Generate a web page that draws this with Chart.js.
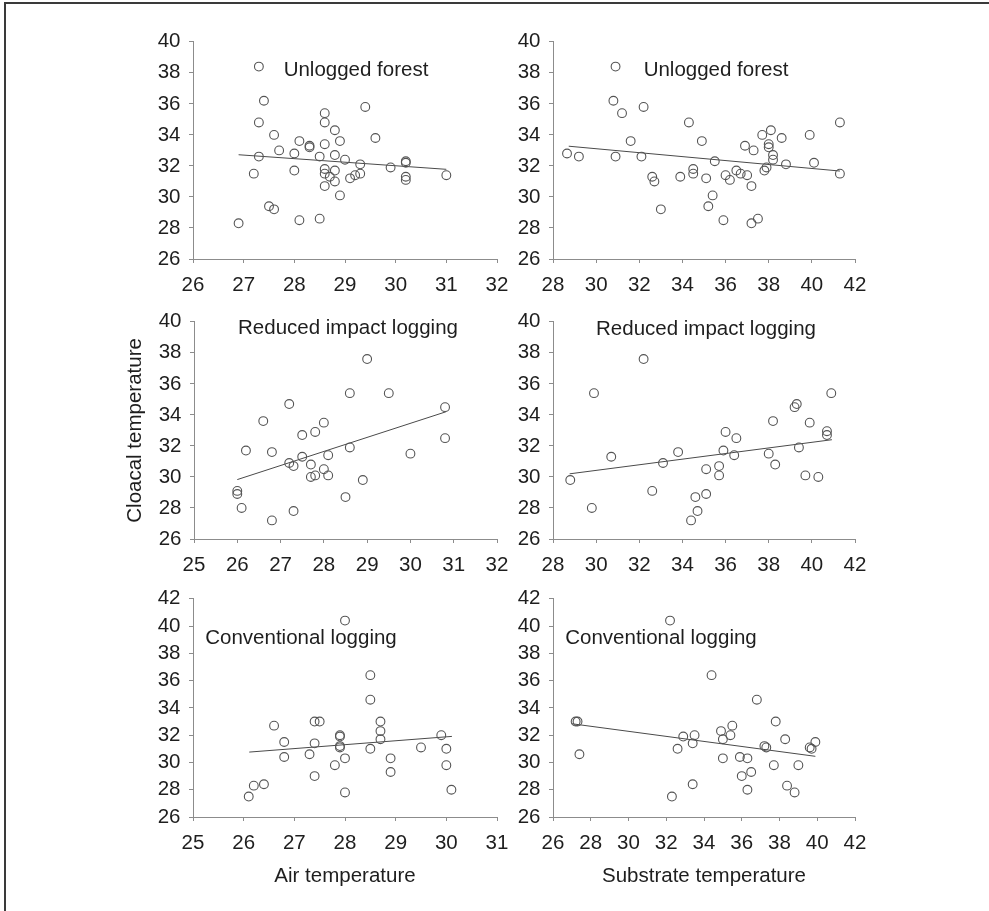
<!DOCTYPE html>
<html>
<head>
<meta charset="utf-8">
<script src="https://cdn.jsdelivr.net/npm/chart.js@4.4.1/dist/chart.umd.min.js"></script>
<style>
  html, body { margin: 0; overflow: hidden; }
  body { background: #fff; width: 989px; height: 911px; position: relative; }
  #frame { position: absolute; left: 4px; top: 2px; width: 985px; height: 909px;
           border-top: 2px solid #3a3a3a; border-left: 2px solid #3a3a3a; box-sizing: border-box; }
  canvas { position: absolute; }
</style>
</head>
<body>
<div id="frame"></div>
<script>
// ---- data ----
// Unlogged forest vs air temperature
var unloggedAirX = [27.3,27.4,27.3,27.6,27.7,28.0,28.1,28.3,28.3,28.5,28.6,28.6,28.6,28.8,28.9,28.8,29.0,29.4,29.6,29.3,29.9,30.2,30.2,30.2,30.2,31.0,27.3,27.2,28.0,28.6,28.6,28.7,28.8,28.8,28.6,29.1,29.2,29.3,28.9,27.5,27.6,26.9,28.1,28.5];
var unloggedAirY = [38.4,36.2,34.8,34.0,33.0,32.8,33.6,33.3,33.2,32.6,35.4,34.8,33.4,34.3,33.6,32.7,32.4,35.8,33.8,32.1,31.9,32.3,32.2,31.3,31.1,31.4,32.6,31.5,31.7,31.8,31.5,31.3,31.7,31.0,30.7,31.2,31.4,31.5,30.1,29.4,29.2,28.3,28.5,28.6];
var unloggedAirFitX = [26.9, 31.0];
var unloggedAirFitY = [32.72, 31.78];

// Unlogged forest vs substrate temperature
var unloggedSubX = [28.65,29.2,30.9,30.8,31.2,32.2,31.6,30.9,32.1,32.6,32.7,33.0,33.9,34.3,34.5,34.5,34.9,35.1,35.2,35.4,35.5,36.0,36.2,35.9,36.5,36.7,36.9,37.0,37.2,37.3,37.2,37.5,37.7,37.8,37.9,38.0,38.0,38.1,38.2,38.2,38.6,38.8,39.9,40.1,41.3,41.3];
var unloggedSubY = [32.8,32.6,38.4,36.2,35.4,35.8,33.6,32.6,32.6,31.3,31.0,29.2,31.3,34.8,31.8,31.5,33.6,31.2,29.4,30.1,32.3,31.4,31.1,28.5,31.7,31.5,33.3,31.4,30.7,33.0,28.3,28.6,34.0,31.7,31.9,33.4,33.2,34.3,32.7,32.4,33.8,32.1,34.0,32.2,34.8,31.5];
var unloggedSubFitX = [28.73, 41.3];
var unloggedSubFitY = [33.27, 31.67];

// Reduced impact logging vs air temperature
var rilAirX = [29.0,28.6,29.5,27.2,30.8,26.6,28.0,27.8,27.5,26.2,26.8,28.6,30.8,27.5,28.1,30.0,27.2,27.3,27.7,28.0,27.7,27.8,28.1,28.9,26.0,26.0,26.1,27.3,26.8,28.5];
var rilAirY = [37.6,35.4,35.4,34.7,34.5,33.6,33.5,32.9,32.7,31.7,31.6,31.9,32.5,31.3,31.4,31.5,30.9,30.7,30.8,30.5,30.0,30.1,30.1,29.8,29.1,28.9,28.0,27.8,27.2,28.7];
var rilAirFitX = [26.0, 30.82];
var rilAirFitY = [29.83, 34.2];

// Reduced impact logging vs substrate temperature
var rilSubX = [28.8,29.8,29.9,30.7,32.2,32.6,33.1,33.8,34.4,34.6,34.7,35.1,35.1,35.7,35.7,35.9,36.0,36.4,36.5,38.0,38.2,38.3,39.2,39.3,39.4,39.7,39.9,40.3,40.7,40.7,40.9];
var rilSubY = [29.8,28.0,35.4,31.3,37.6,29.1,30.9,31.6,27.2,28.7,27.8,28.9,30.5,30.7,30.1,31.7,32.9,31.4,32.5,31.5,33.6,30.8,34.5,34.7,31.9,30.1,33.5,30.0,32.95,32.7,35.4];
var rilSubFitX = [28.77, 40.93];
var rilSubFitY = [30.2, 32.4];

// Conventional logging vs air temperature
var convAirX = [28.0,28.5,28.5,26.6,27.4,27.5,28.7,28.7,28.7,27.9,27.9,27.9,27.9,29.9,26.8,27.4,27.3,26.8,28.5,29.5,30.0,28.0,27.8,28.9,28.9,30.0,27.4,28.0,30.1,26.1,26.2,26.4];
var convAirY = [40.4,36.4,34.6,32.7,33.0,33.0,33.0,32.3,31.7,32.0,31.9,31.2,31.1,32.0,31.5,31.4,30.6,30.4,31.0,31.1,31.0,30.3,29.8,30.3,29.3,29.8,29.0,27.8,28.0,27.5,28.3,28.4];
var convAirFitX = [26.11, 30.11];
var convAirFitY = [30.76, 31.91];

// Conventional logging vs substrate temperature
var convSubX = [32.2,34.4,36.8,27.2,27.3,27.4,37.8,35.5,34.9,33.5,32.9,35.4,35.0,33.4,38.3,39.9,32.6,37.2,37.3,39.6,39.7,35.0,35.9,36.3,37.7,39.0,36.5,36.0,33.4,36.3,38.4,38.8,32.3];
var convSubY = [40.4,36.4,34.6,33.0,33.0,30.6,33.0,32.7,32.3,32.0,31.9,32.0,31.7,31.4,31.7,31.5,31.0,31.2,31.1,31.1,31.0,30.3,30.4,30.3,29.8,29.8,29.3,29.0,28.4,28.0,28.3,27.8,27.5];
var convSubFitX = [26.99, 39.9];
var convSubFitY = [32.84, 30.45];

// ---- chart setup ----
Chart.defaults.font.family = '"Liberation Sans", Arial, sans-serif';
Chart.defaults.font.size = 20.5;
Chart.defaults.color = '#1e1e1e';

var AXIS = '#8c8c8c';
var Y_W = 85, PAD_T = 20, PAD_R = 25;

function toPoints(xs, ys) {
  return xs.map(function (x, i) { return { x: x, y: ys[i] }; });
}

// text inside the plot area
var panelLabel = {
  id: 'panelLabel',
  afterDraw: function (chart, args, opts) {
    var ctx = chart.ctx;
    ctx.save();
    ctx.font = '20.5px "Liberation Sans", Arial, sans-serif';
    ctx.fillStyle = '#1e1e1e';
    ctx.textAlign = 'center';
    ctx.textBaseline = 'middle';
    ctx.fillText(opts.text, opts.x, opts.y);
    ctx.restore();
  }
};

var panels = [
  { title: 'Unlogged forest', tx: 356, ty: 70, box: [193, 41, 497, 259], xMin: 26, xMax: 32, xStep: 1, yMax: 40,
    xs: unloggedAirX, ys: unloggedAirY, fx: unloggedAirFitX, fy: unloggedAirFitY },
  { title: 'Unlogged forest', tx: 716, ty: 70, box: [553, 41, 855, 259], xMin: 28, xMax: 42, xStep: 2, yMax: 40,
    xs: unloggedSubX, ys: unloggedSubY, fx: unloggedSubFitX, fy: unloggedSubFitY },
  { title: 'Reduced impact logging', tx: 348, ty: 328, box: [194, 321, 497, 539], xMin: 25, xMax: 32, xStep: 1, yMax: 40,
    xs: rilAirX, ys: rilAirY, fx: rilAirFitX, fy: rilAirFitY, yTitle: 'Cloacal temperature' },
  { title: 'Reduced impact logging', tx: 706, ty: 329, box: [553, 321, 855, 539], xMin: 28, xMax: 42, xStep: 2, yMax: 40,
    xs: rilSubX, ys: rilSubY, fx: rilSubFitX, fy: rilSubFitY },
  { title: 'Conventional logging', tx: 301, ty: 638, box: [193, 598, 497, 817], xMin: 25, xMax: 31, xStep: 1, yMax: 42,
    xs: convAirX, ys: convAirY, fx: convAirFitX, fy: convAirFitY, xTitle: 'Air temperature' },
  { title: 'Conventional logging', tx: 661, ty: 638, box: [553, 598, 855, 817], xMin: 26, xMax: 42, xStep: 2, yMax: 42,
    xs: convSubX, ys: convSubY, fx: convSubFitX, fy: convSubFitY, xTitle: 'Substrate temperature' }
];

panels.forEach(function (p) {
  var l = p.box[0], t = p.box[1], r = p.box[2], b = p.box[3];
  var xH = p.xTitle ? 80 : 40;
  var w = (r - l) + Y_W + PAD_R, h = (b - t) + PAD_T + xH;
  var left = l - Y_W, top = t - PAD_T;

  var cv = document.createElement('canvas');
  cv.width = w; cv.height = h;
  cv.style.left = left + 'px'; cv.style.top = top + 'px';
  cv.style.width = w + 'px'; cv.style.height = h + 'px';
  document.body.appendChild(cv);

  new Chart(cv, {
    type: 'scatter',
    data: {
      datasets: [
        {
          data: toPoints(p.xs, p.ys),
          pointStyle: 'circle',
          pointRadius: 4.4,
          pointBorderWidth: 1.1,
          pointBorderColor: '#555555',
          pointBackgroundColor: 'rgba(255,255,255,0)'
        },
        {
          data: toPoints(p.fx, p.fy),
          showLine: true,
          pointRadius: 0,
          borderColor: '#4a4a4a',
          borderWidth: 1
        }
      ]
    },
    options: {
      responsive: false,
      animation: false,
      devicePixelRatio: 1,
      layout: { padding: { left: 0, top: PAD_T, right: PAD_R, bottom: 0 } },
      plugins: {
        legend: { display: false },
        tooltip: { enabled: false },
        panelLabel: { text: p.title, x: p.tx - left, y: p.ty - top }
      },
      scales: {
        x: {
          type: 'linear',
          min: p.xMin,
          max: p.xMax,
          ticks: { stepSize: p.xStep, padding: 10, autoSkip: false, maxRotation: 0 },
          grid: { drawOnChartArea: false, drawTicks: true, tickLength: 4, color: AXIS },
          border: { color: AXIS, width: 1 },
          title: p.xTitle ? { display: true, text: p.xTitle, padding: { top: 0, bottom: 8 } } : { display: false },
          afterFit: function (s) { s.height = xH; }
        },
        y: {
          type: 'linear',
          min: 26,
          max: p.yMax,
          ticks: { stepSize: 2, padding: 8.5, autoSkip: false },
          grid: { drawOnChartArea: false, drawTicks: true, tickLength: 4, color: AXIS },
          border: { color: AXIS, width: 1 },
          title: p.yTitle ? { display: true, text: p.yTitle, padding: { top: 14, bottom: 0 } } : { display: false },
          afterFit: function (s) { s.width = Y_W; }
        }
      }
    },
    plugins: [panelLabel]
  });
});
</script>
</body>
</html>
